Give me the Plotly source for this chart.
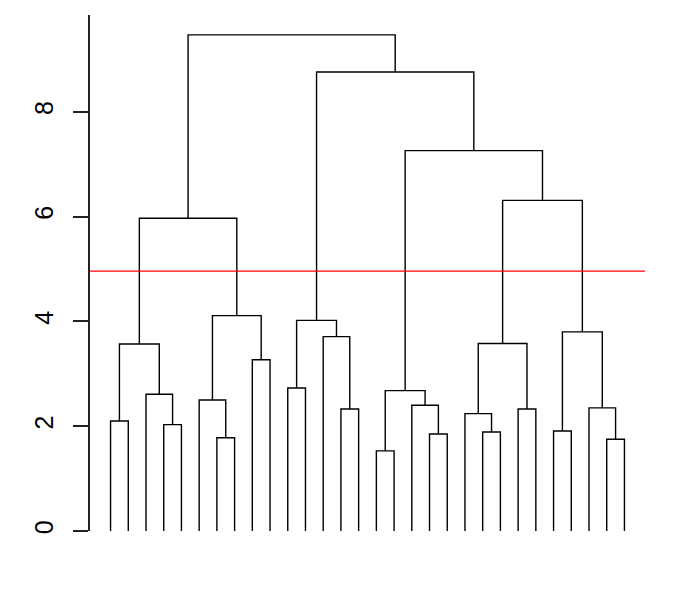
import plotly.graph_objects as go

# Dendrogram data: 30 leaves ordered 1..30, merges in R hclust style
# (negative = leaf index, positive = earlier merge number), with heights.
merge_left = [-1, -4, -3, 1, -7, -6, -9, 6, 4, -11, -14, -13, 10, -16, -19, -18, 14,
              -22, -21, -24, 19, -26, -29, -28, 22, 21, 17, 13, 9]
merge_right = [-2, -5, 2, 3, -8, 5, -10, 7, 8, -12, -15, 11, 12, -17, -20, 15, 16,
               -23, 18, -25, 20, -27, -30, 23, 24, 25, 26, 27, 28]
merge_height = [2.10, 2.03, 2.61, 3.57, 1.78, 2.50, 3.27, 4.11, 5.97, 2.73, 2.33, 3.71,
                4.02, 1.53, 1.85, 2.40, 2.68, 1.89, 2.24, 2.33, 3.58, 1.91, 1.75, 2.35,
                3.80, 6.31, 7.26, 8.76, 9.47]
n_leaves = 30
cut_height = 4.96
y_ticks = [0, 2, 4, 6, 8]

node_x = {}
node_h = {}


def pos(ref):
    if ref < 0:
        return float(-ref), 0.0
    return node_x[ref], node_h[ref]


xs, ys = [], []
for i, (a, b, h) in enumerate(zip(merge_left, merge_right, merge_height), start=1):
    xa, ha = pos(a)
    xb, hb = pos(b)
    node_x[i] = (xa + xb) / 2
    node_h[i] = h
    xs += [xa, xa, xb, xb, None]
    ys += [ha, h, h, hb, None]

fig = go.Figure()
fig.add_trace(go.Scatter(x=xs, y=ys, mode="lines",
                         line=dict(color="black", width=1.4),
                         hoverinfo="skip", showlegend=False))

fig.add_shape(type="line", xref="paper", x0=0, x1=1, yref="y", y0=cut_height, y1=cut_height,
              line=dict(color="red", width=1.4))

span = n_leaves - 1
ymax = max(merge_height)
fig.update_layout(
    width=675, height=600,
    margin=dict(l=90, r=30, t=15, b=69.3),
    paper_bgcolor="white", plot_bgcolor="white",
    xaxis=dict(range=[1 - 0.04 * span, n_leaves + 0.04 * span], visible=False),
    yaxis=dict(range=[0, ymax * 1.04], tickvals=y_ticks, ticktext=[str(t) for t in y_ticks],
               showgrid=False, zeroline=False, showline=True, linecolor="#222", linewidth=2,
               ticks="outside", ticklen=15, tickwidth=1.5, tickcolor="#222",
               ticklabelstandoff=10,
               tickangle=-90, tickfont=dict(family="Liberation Sans", size=25, color="black")),
    font=dict(family="Liberation Sans"),
)

fig.write_html("out.html")
